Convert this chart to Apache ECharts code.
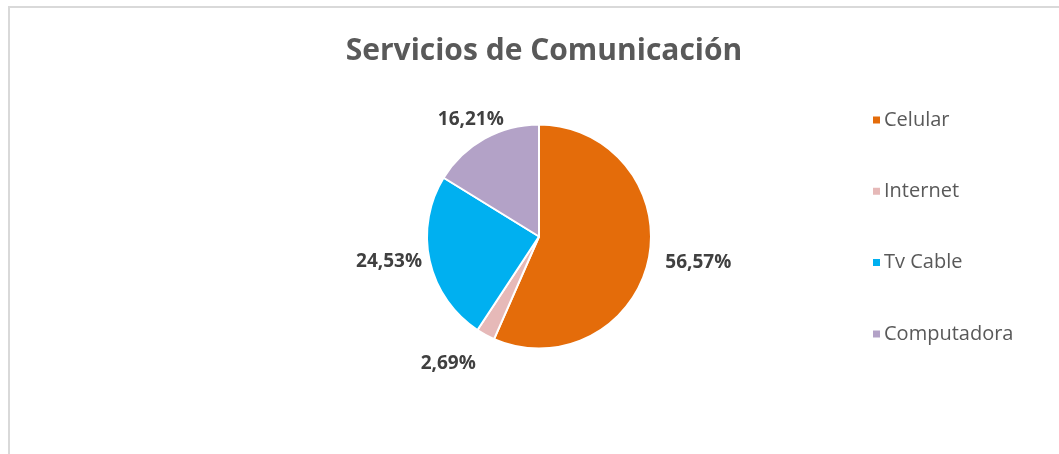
<!DOCTYPE html>
<html>
<head>
<meta charset="utf-8">
<script src="https://cdn.jsdelivr.net/npm/echarts@6/dist/echarts.min.js"></script>
<style>
  html, body { margin: 0; padding: 0; background: #fff; }
  #chart { width: 1059px; height: 454px; }
</style>
</head>
<body>
<div id="chart"></div>
<script>
// servicios de comunicacion - porcentajes
var categories = ['Celular', 'Internet', 'Tv Cable', 'Computadora'];
var values = [56.57, 2.69, 24.53, 16.21];
var colors = ['#E46C0A', '#E6B9B8', '#00B0F0', '#B3A2C7'];

var chart = echarts.init(document.getElementById('chart'));

var labelGap = 15;
// small hand tweaks so labels sit where excel put them
var labelNudge = [[2, -7], [-25, 6], [7, -10], [-1, 3]];

// place label centre outward along the slice's radial direction (like excel "outside end")
function placeLabel(params) {
  var pts = params.labelLinePoints;
  if (!pts) return {};
  var dx = pts[1][0] - pts[0][0];
  var dy = pts[1][1] - pts[0][1];
  var len = Math.sqrt(dx * dx + dy * dy) || 1;
  dx /= len; dy /= len;
  var hw = params.labelRect.width / 2;
  var hh = params.labelRect.height / 2;
  var edge = Math.min(
    Math.abs(dx) > 1e-6 ? hw / Math.abs(dx) : Infinity,
    Math.abs(dy) > 1e-6 ? hh / Math.abs(dy) : Infinity
  );
  var d = labelGap + edge;
  var n = labelNudge[params.dataIndex] || [0, 0];
  return {
    x: pts[0][0] + dx * d + n[0],
    y: pts[0][1] + dy * d + n[1],
    align: 'center',
    verticalAlign: 'middle'
  };
}

chart.setOption({
  color: colors,
  title: {
    text: 'Servicios de Comunicación',
    left: 539,
    textAlign: 'center',
    top: 31,
    textStyle: {
      fontFamily: 'Open Sans',
      fontSize: 30,
      fontWeight: 'bold',
      color: '#595959'
    }
  },
  legend: {
    orient: 'vertical',
    left: 866,
    top: 105,
    itemWidth: 9,
    itemHeight: 9,
    itemGap: 51.3,
    icon: 'rect',
    data: categories,
    textStyle: {
      fontFamily: 'Open Sans',
      fontSize: 20,
      color: '#595959',
      padding: [0, 0, 0, -2]
    }
  },
  graphic: [{
    type: 'rect',
    shape: { x: 9, y: 7, width: 1100, height: 500 },
    style: { fill: 'none', stroke: '#d9d9d9', lineWidth: 2 },
    silent: true
  }],
  series: [{
    type: 'pie',
    center: [539, 236.5],
    radius: 112,
    startAngle: 90,
    clockwise: true,
    avoidLabelOverlap: false,
    itemStyle: { borderColor: '#fff', borderWidth: 2 },
    label: {
      show: true,
      position: 'outside',
      fontFamily: 'Open Sans',
      fontSize: 19,
      fontWeight: 'bold',
      color: '#404040',
      formatter: function (p) {
        return p.value.toFixed(2).replace('.', ',') + '%';
      }
    },
    labelLine: { show: true, length: 10, length2: 0, lineStyle: { opacity: 0 } },
    labelLayout: placeLabel,
    emphasis: { disabled: true },
    data: categories.map(function (c, i) {
      return { name: c, value: values[i] };
    })
  }]
});
</script>
</body>
</html>
